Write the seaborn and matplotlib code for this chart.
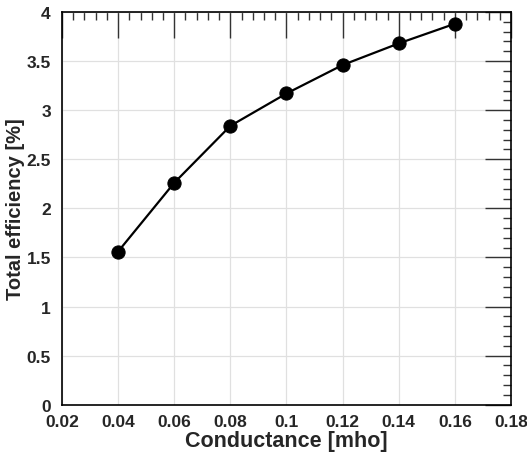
import matplotlib
matplotlib.use("Agg")
import matplotlib.pyplot as plt
import seaborn as sns
import pandas as pd
from matplotlib.ticker import MultipleLocator

conductance = [0.04, 0.06, 0.08, 0.10, 0.12, 0.14, 0.16]
efficiency = [1.56, 2.26, 2.84, 3.17, 3.46, 3.68, 3.88]
xticks = [0.02, 0.04, 0.06, 0.08, 0.1, 0.12, 0.14, 0.16, 0.18]
yticks = [0, 0.5, 1, 1.5, 2, 2.5, 3, 3.5, 4]
xtick_labels = ["0.02", "0.04", "0.06", "0.08", "0.1", "0.12", "0.14", "0.16", "0.18"]
ytick_labels = ["0", "0.5", "1", "1.5", "2", "2.5", "3", "3.5", "4"]

sns.set_style("white")
plt.rcParams['font.family'] = ['Liberation Sans', 'DejaVu Sans']

df = pd.DataFrame({"x": conductance, "y": efficiency})

fig = plt.figure(figsize=(5.27, 4.56), dpi=100)
ax = fig.add_axes([0.1176, 0.1103, 0.9696 - 0.1176, 0.9715 - 0.1103])

sns.lineplot(data=df, x="x", y="y", ax=ax, color="black", marker="o",
             markersize=9.5, linewidth=1.6, markeredgecolor="black", zorder=3)

ax.set_xlim(0.02, 0.18)
ax.set_ylim(0, 4)
ax.set_xticks(xticks)
ax.set_xticklabels(xtick_labels)
ax.set_yticks(yticks)
ax.set_yticklabels(ytick_labels)
ax.xaxis.set_minor_locator(MultipleLocator(0.004))
ax.yaxis.set_minor_locator(MultipleLocator(0.1))

ax.grid(True, which="major", color="#e0e0e0", linewidth=0.9, zorder=0)
ax.set_axisbelow(True)

ax.tick_params(which="major", direction="in", length=19, width=1.0, top=True, right=True,
               labelsize=12.5, color="#333333")
ax.tick_params(axis="x", which="major", pad=7)
ax.tick_params(axis="y", which="major", pad=8)
ax.tick_params(which="minor", direction="in", length=6, width=1.0, top=True, right=True,
               color="#333333")
for lab in ax.get_xticklabels() + ax.get_yticklabels():
    lab.set_fontweight("bold")

for sp in ax.spines.values():
    sp.set_color("black")
    sp.set_linewidth(1.2)

ax.set_xlabel("Conductance [mho]", fontsize=15.5, fontweight="bold", labelpad=0.5)
ax.set_ylabel("Total efficiency [%]", fontsize=14.5, fontweight="bold", labelpad=1)

fig.savefig("out.png", dpi=100)
